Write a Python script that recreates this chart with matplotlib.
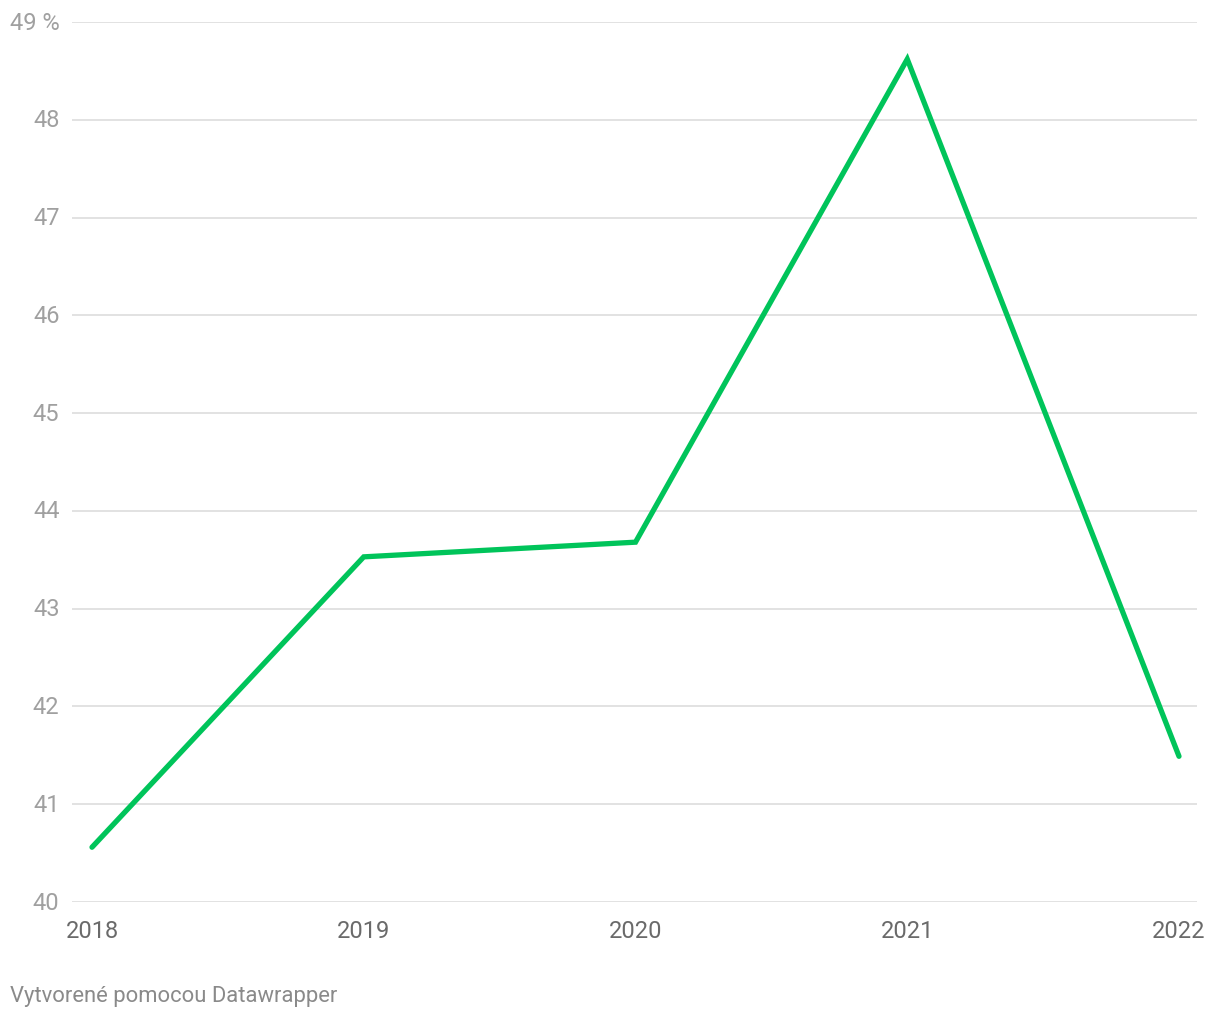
import matplotlib
matplotlib.use("Agg")
import matplotlib.pyplot as plt

years = [2018, 2019, 2020, 2021, 2022]
values = [40.56, 43.53, 43.68, 48.62, 41.49]
y_ticks = [40, 41, 42, 43, 44, 45, 46, 47, 48, 49]
y_labels = ["40", "41", "42", "43", "44", "45", "46", "47", "48", "49 %"]
x_labels = ["2018", "2019", "2020", "2021", "2022"]
footer = "Vytvorené pomocou Datawrapper"

plt.rcParams['font.family'] = ['Roboto', 'DejaVu Sans']

fig = plt.figure(figsize=(12.2, 10.2), dpi=100)
ax = fig.add_axes([72/1220, 1-903/1020, (1197-72)/1220, (903-23)/1020])

ax.plot(years, values, color="#00c45a", linewidth=3.8, solid_capstyle="round",
        solid_joinstyle="miter", zorder=3)

ax.set_ylim(40, 49)
ax.set_xlim(2018 - 20/271.75, 2022 + 18/271.75)
ax.set_yticks(y_ticks)
ax.set_yticklabels(y_labels)
ax.set_xticks(years)
ax.set_xticklabels(x_labels)

for t in y_ticks:
    ax.axhline(t, color="#e2e2e2", linewidth=1.4, zorder=1)

for s in ax.spines.values():
    s.set_visible(False)
ax.tick_params(axis="y", length=0, pad=9, labelsize=17, labelcolor="#a0a0a0")
ax.tick_params(axis="x", length=0, pad=12, labelsize=17, labelcolor="#6a6a6a")
for lbl in ax.get_yticklabels():
    lbl.set_verticalalignment("center")

fig.text(10/1220, 1-997/1020, footer, fontsize=15.8, color="#8a8a8a",
         ha="left", va="center")

fig.savefig("out.png", dpi=100, facecolor="white")
